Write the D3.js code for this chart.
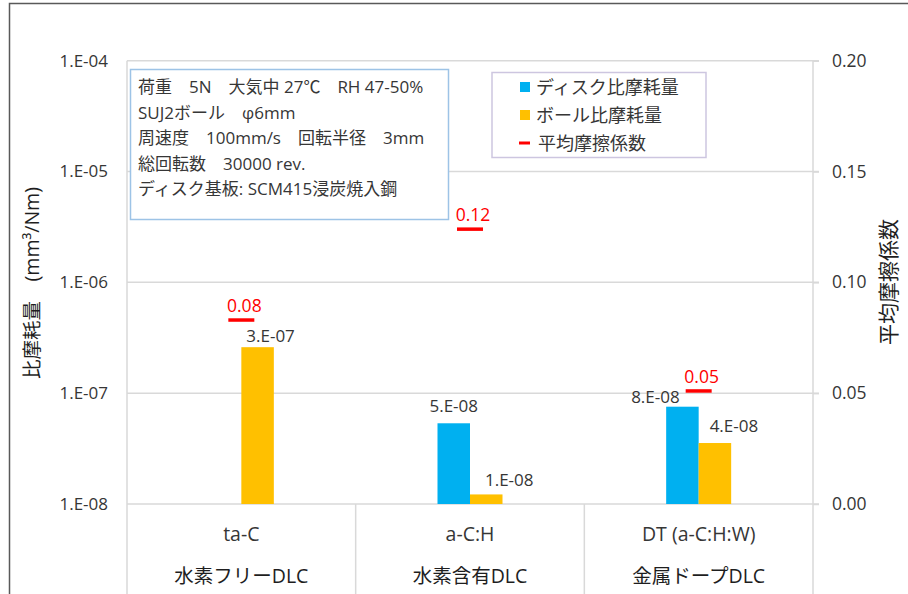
<!DOCTYPE html>
<html>
<head>
<meta charset="utf-8">
<script src="https://cdn.jsdelivr.net/npm/d3@7"></script>
<style>
  html, body { margin: 0; padding: 0; background: #fff; }
  svg { display: block; font-family: "Open Sans", "Noto Sans CJK JP", sans-serif; }
  text { fill: #363636; }
</style>
</head>
<body>
<div id="chart"></div>
<script>
// data
const categories = ['ta-C', 'a-C:H', 'DT (a-C:H:W)'];
const groups = ['水素フリーDLC', '水素含有DLC', '金属ドープDLC'];
const diskWear = [null, 5.35e-8, 7.55e-8];   // ディスク比摩耗量 (mm3/Nm)
const ballWear = [2.6e-7, 1.22e-8, 3.55e-8]; // ボール比摩耗量
const friction = [0.083, 0.124, 0.051];      // 平均摩擦係数
const wearTicks = [1e-8, 1e-7, 1e-6, 1e-5, 1e-4];
const frictionTicks = [0, 0.05, 0.10, 0.15, 0.20];
const seriesNames = ['ディスク比摩耗量', 'ボール比摩耗量', '平均摩擦係数'];
const conditions = [
  '荷重　5N　大気中 27℃　RH 47-50%',
  'SUJ2ボール　φ6mm',
  '周速度　100mm/s　回転半径　3mm',
  '総回転数　30000 rev.',
  'ディスク基板: SCM415浸炭焼入鋼',
];

// hand placed label nudges (dx, gap above bar top), like the manually dragged labels
const diskLabelNudge = [[0, 0], [0, 11], [-27, 4]];
const ballLabelNudge = [[13, 5], [23, 8], [19, 11]];

const colors = {disk: '#00b0f0', ball: '#ffc000', mu: '#ff0000', grid: '#d9d9d9', text: '#363636'};

const W = 908, H = 594;
const plotLeft = 127, plotRight = 813, plotTop = 60.7, plotBottom = 504;

const fmtE = v => {
  let e = Math.floor(Math.log10(v) + 1e-9);
  let m = Math.round(v / Math.pow(10, e));
  if (m === 10) { m = 1; e++; }
  return `${m}.E${e < 0 ? '-' : '+'}${String(Math.abs(e)).padStart(2, '0')}`;
};

const svg = d3.select('#chart').append('svg')
  .attr('width', W)
  .attr('height', H);

// outer frame (top and left edges only are inside the crop)
svg.append('path')
  .attr('d', `M9.5,${H} V3.5 H${W}`)
  .attr('fill', 'none')
  .attr('stroke', '#595959')
  .attr('stroke-width', 1.5);

const x = d3.scaleBand().domain(categories).range([plotLeft, plotRight]);
const xs = d3.scaleBand().domain(['disk', 'ball']).range([-32.5, 32.5]);
const y = d3.scaleLog().domain([1e-8, 1e-4]).range([plotBottom, plotTop]);
const y2 = d3.scaleLinear().domain([0, 0.2]).range([plotBottom, plotTop]);

// gridlines
svg.append('g')
  .selectAll('line')
  .data(wearTicks)
  .join('line')
    .attr('x1', plotLeft).attr('x2', plotRight + 6)
    .attr('y1', d => y(d)).attr('y2', d => y(d))
    .attr('stroke', colors.grid)
    .attr('stroke-width', 1.5);

// vertical axis lines and category separators
const seps = [plotLeft, ...categories.slice(1).map(c => x(c)), plotRight];
svg.append('g')
  .selectAll('line')
  .data(seps)
  .join('line')
    .attr('x1', d => d).attr('x2', d => d)
    .attr('y1', (d, i) => (i === 0 || i === seps.length - 1) ? plotTop : plotBottom)
    .attr('y2', H)
    .attr('stroke', colors.grid)
    .attr('stroke-width', 1.5);

// left axis
const yAxis = svg.append('g')
  .attr('transform', `translate(${plotLeft},0)`)
  .call(d3.axisLeft(y).tickValues(wearTicks).tickFormat(fmtE).tickSize(0).tickPadding(19));
yAxis.select('.domain').remove();
yAxis.selectAll('text')
  .attr('font-size', 17)
  .style('fill', colors.text);

// right axis
const y2Axis = svg.append('g')
  .attr('transform', `translate(${plotRight},0)`)
  .call(d3.axisRight(y2).tickValues(frictionTicks).tickFormat(d3.format('.2f')).tickSize(6).tickPadding(13));
y2Axis.select('.domain').remove();
y2Axis.selectAll('line').attr('stroke', colors.grid).attr('stroke-width', 1.5);
y2Axis.selectAll('text')
  .attr('font-size', 17.5)
  .style('fill', colors.text);
yAxis.attr('font-family', null);
y2Axis.attr('font-family', null);

// axis titles
svg.append('text')
  .attr('transform', `translate(31,283) rotate(-90)`)
  .attr('text-anchor', 'middle')
  .attr('dominant-baseline', 'central')
  .attr('font-size', 19.5)
  .style('fill', '#1e1e1e')
  .style('white-space', 'pre')
  .text('比摩耗量　(mm³/Nm)');

svg.append('text')
  .attr('transform', `translate(888,282) rotate(-90)`)
  .attr('text-anchor', 'middle')
  .attr('dominant-baseline', 'central')
  .attr('font-size', 21)
  .style('fill', '#1e1e1e')
  .text('平均摩擦係数');

// bars
const bars = [];
categories.forEach((c, i) => {
  if (diskWear[i] != null) bars.push({c, s: 'disk', v: diskWear[i], nudge: diskLabelNudge[i]});
  if (ballWear[i] != null) bars.push({c, s: 'ball', v: ballWear[i], nudge: ballLabelNudge[i]});
});
const cx = d => x(d.c) + x.bandwidth() / 2 + xs(d.s);

svg.append('g')
  .selectAll('rect')
  .data(bars)
  .join('rect')
    .attr('x', cx)
    .attr('width', xs.bandwidth())
    .attr('y', d => y(d.v))
    .attr('height', d => plotBottom - y(d.v))
    .attr('fill', d => colors[d.s]);

svg.append('g')
  .selectAll('text')
  .data(bars)
  .join('text')
    .attr('x', d => cx(d) + xs.bandwidth() / 2 + d.nudge[0])
    .attr('y', d => y(d.v) - d.nudge[1])
    .attr('text-anchor', 'middle')
    .attr('font-size', 17)
    .text(d => fmtE(d.v));

// friction markers
const mu = categories.map((c, i) => ({c, v: friction[i]}));
const muX = d => x(d.c) + x.bandwidth() / 2;
svg.append('g')
  .selectAll('line')
  .data(mu)
  .join('line')
    .attr('x1', d => muX(d) - 13).attr('x2', d => muX(d) + 13)
    .attr('y1', d => y2(d.v)).attr('y2', d => y2(d.v))
    .attr('stroke', colors.mu)
    .attr('stroke-width', 3.5);

svg.append('g')
  .selectAll('text')
  .data(mu)
  .join('text')
    .attr('x', d => muX(d) + 3)
    .attr('y', d => y2(d.v) - 8)
    .attr('text-anchor', 'middle')
    .attr('font-size', 17.5)
    .style('fill', colors.mu)
    .text(d => d3.format('.2f')(d.v));

// category labels
const cat = svg.append('g');
cat.selectAll('text.sub')
  .data(categories)
  .join('text')
    .attr('class', 'sub')
    .attr('x', d => x(d) + x.bandwidth() / 2)
    .attr('y', 541)
    .attr('text-anchor', 'middle')
    .attr('font-size', 19.5)
    .text(d => d);
cat.selectAll('text.grp')
  .data(groups)
  .join('text')
    .attr('class', 'grp')
    .attr('x', (d, i) => x(categories[i]) + x.bandwidth() / 2)
    .attr('y', 583)
    .attr('text-anchor', 'middle')
    .attr('font-size', 19.5)
    .style('fill', '#1e1e1e')
    .text(d => d);

// conditions box
const info = svg.append('g');
info.append('rect')
  .attr('x', 130.5).attr('y', 69.5)
  .attr('width', 318).attr('height', 150)
  .attr('fill', '#fff')
  .attr('stroke', '#9dc3e6')
  .attr('stroke-width', 1.5);
info.selectAll('text')
  .data(conditions)
  .join('text')
    .attr('x', 138)
    .attr('y', (d, i) => 93 + i * 25.5)
    .attr('font-size', 17)
    .style('white-space', 'pre')
    .text(d => d);

// legend
const legend = svg.append('g');
legend.append('rect')
  .attr('x', 492).attr('y', 72.5)
  .attr('width', 214).attr('height', 85)
  .attr('fill', '#fff')
  .attr('stroke', '#cdc6e0')
  .attr('stroke-width', 1.5);
const items = legend.selectAll('g')
  .data(seriesNames)
  .join('g')
    .attr('transform', (d, i) => `translate(520,${87 + i * 28})`);
items.each(function(d, i) {
  const g = d3.select(this);
  if (i < 2) {
    g.append('rect')
      .attr('x', 0).attr('y', -5)
      .attr('width', 10).attr('height', 10)
      .attr('fill', i === 0 ? colors.disk : colors.ball);
  } else {
    g.append('line')
      .attr('x1', -1).attr('x2', 10)
      .attr('stroke', colors.mu)
      .attr('stroke-width', 3);
  }
});
items.append('text')
  .attr('x', (d, i) => i === 2 ? 18 : 16)
  .attr('y', 0)
  .attr('dominant-baseline', 'central')
  .attr('font-size', 18)
  .text(d => d);
</script>
</body>
</html>
